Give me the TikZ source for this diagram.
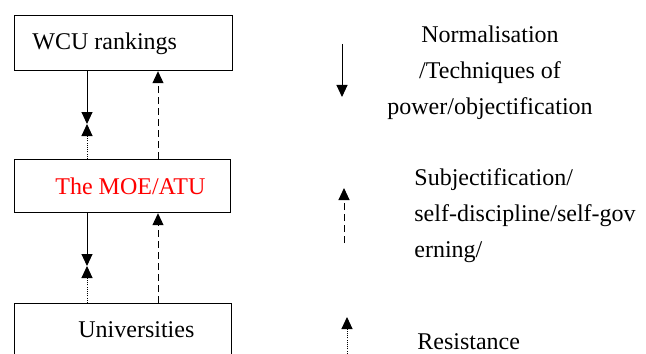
\documentclass[tikz,border=0pt]{standalone}
\usepackage{fontspec}
\setmainfont{Liberation Serif}
\usetikzlibrary{arrows.meta}

\begin{document}
\begin{tikzpicture}[x=0.5pt, y=-0.5pt,
  every box/.style={draw, line width=0.6pt, inner sep=0pt, anchor=north west},
  every label text/.style={inner sep=0pt, font=\fontsize{12}{18}\selectfont},
  power/.style={line width=0.5pt, -{Triangle[width=5.5pt,length=6pt]}},
  self/.style={power, dash pattern=on 3.5pt off 2pt},
  resist/.style={power, dash pattern=on 0.5pt off 0.6pt}]

\useasboundingbox (0,0) rectangle (646,353);

% boxes
\node [every box, minimum width=109pt, minimum height=27.5pt] (wcu) at (14,15) {};
\node [every box, minimum width=108pt, minimum height=26.5pt] (moe) at (14,159) {};
\node [every box, minimum width=108.5pt, minimum height=27.5pt] (uni) at (14,303) {};

\node [every label text, anchor=base west] (wcu-text) at (32,50) {WCU rankings};
\node [every label text, anchor=base west, text=red] (moe-text) at (55,194) {The MOE/ATU};
\node [every label text, anchor=base west] (uni-text) at (78,337) {Universities};

% where the arrows meet
\coordinate (meet-1) at (87,124);
\coordinate (meet-2) at (87,266);

\draw [power] (wcu.south -| meet-1) -- (meet-1);
\draw [resist] (moe.north -| meet-1) -- (meet-1);
\draw [self] ([xshift=72pt]moe.north west) -- ([xshift=72pt]wcu.south west);

\draw [power] (moe.south -| meet-2) -- (meet-2);
\draw [resist] (uni.north -| meet-2) -- (meet-2);
\draw [self] ([xshift=72pt]uni.north west) -- ([xshift=72pt]moe.south west);

% legend
\coordinate (legend-1a) at (342,44);
\coordinate (legend-1b) at (342,97);
\coordinate (legend-2a) at (344,243);
\coordinate (legend-2b) at (344,188);
\coordinate (legend-3a) at (347,356);
\coordinate (legend-3b) at (347,317);

\draw [power] (legend-1a) -- (legend-1b);
\draw [self] (legend-2a) -- (legend-2b);
\draw [resist] (legend-3a) -- (legend-3b);

\node [every label text, align=center, anchor=north] (legend-1-text) at (490,25.6)
  {Normalisation\\/Techniques of\\power/objectification};
\node [every label text, align=left, anchor=north west] (legend-2-text) at (414,168.6)
  {Subjectification/\\self-discipline/self-gov\\erning/};
\node [every label text, anchor=base west] (legend-3-text) at (417,349) {Resistance};

\end{tikzpicture}
\end{document}
